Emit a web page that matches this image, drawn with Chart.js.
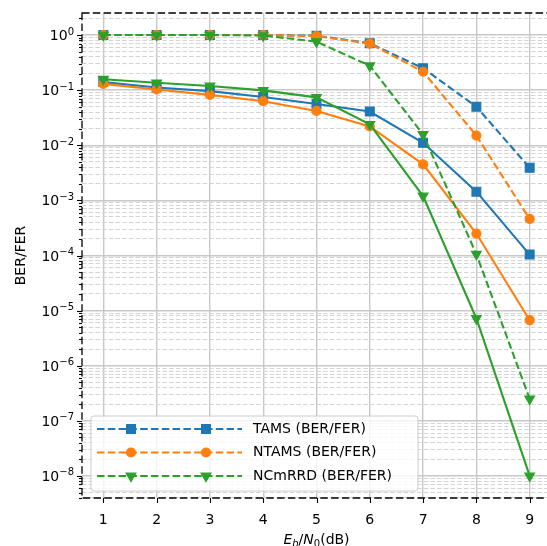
<!DOCTYPE html>
<html>
<head>
<meta charset="utf-8">
<script src="https://cdn.jsdelivr.net/npm/chart.js@4/dist/chart.umd.min.js"></script>
<style>
  html, body { margin: 0; padding: 0; overflow: hidden; background: #fff; }
  #wrap { width: 560px; height: 546px; }
</style>
</head>
<body>
<div id="wrap"><canvas id="myChart"></canvas></div>
<script>
// Eb/N0 points (dB)
var snr = [1, 2, 3, 4, 5, 6, 7, 8, 9];

var tamsBer   = [0.14, 0.112, 0.096, 0.075, 0.056, 0.041, 0.0111, 0.00144, 0.000104];
var tamsFer   = [1.0, 1.0, 1.0, 1.0, 0.97, 0.71, 0.25, 0.05, 0.0039];
var ntamsBer  = [0.13, 0.103, 0.082, 0.063, 0.042, 0.022, 0.0045, 0.00025, 0.0000067];
var ntamsFer  = [1.0, 1.0, 1.0, 1.0, 0.96, 0.70, 0.216, 0.015, 0.00046];
var ncmrrdBer = [0.158, 0.136, 0.119, 0.099, 0.074, 0.024, 0.0012, 0.0000072, 0.00000001];
var ncmrrdFer = [1.0, 1.0, 1.0, 0.98, 0.76, 0.277, 0.0157, 0.000106, 0.00000025];

var legendNames = ['TAMS (BER/FER)', 'NTAMS (BER/FER)', 'NCmRRD (BER/FER)'];
var colors = ['#1f77b4', '#ff7f0e', '#2ca02c'];
var markers = [
  {style: 'rect', radius: 6.2, rotation: 0},
  {style: 'circle', radius: 4.5, rotation: 0},
  {style: 'triangle', radius: 5.6, rotation: 180}
];

var dashLine = [7.5, 3.3];
var FONT = 'DejaVu Sans';

function toPoints(arr) {
  return arr.map(function(v, i) { return {x: snr[i], y: v}; });
}

function isDecade(v) {
  var e = Math.log10(v);
  return Math.abs(e - Math.round(e)) < 1e-6;
}

function makeSet(label, values, k, dashed, idx) {
  return {
    label: label,
    data: toPoints(values),
    borderColor: colors[k],
    backgroundColor: colors[k],
    pointBackgroundColor: colors[k],
    pointBorderColor: colors[k],
    borderWidth: 2.1,
    borderDash: dashed ? dashLine : [],
    pointStyle: markers[k].style,
    pointRadius: markers[k].radius,
    pointRotation: markers[k].rotation,
    pointBorderWidth: 1.2,
    fill: false,
    tension: 0,
    order: -idx
  };
}

var datasets = [
  makeSet('TAMS BER', tamsBer, 0, false, 0),
  makeSet('TAMS FER', tamsFer, 0, true, 1),
  makeSet('NTAMS BER', ntamsBer, 1, false, 2),
  makeSet('NTAMS FER', ntamsFer, 1, true, 3),
  makeSet('NCmRRD BER', ncmrrdBer, 2, false, 4),
  makeSet('NCmRRD FER', ncmrrdFer, 2, true, 5)
];

// frame, tick marks, power-of-ten labels, axis titles and the legend
var decor = {
  id: 'decor',
  afterDraw: function(chart) {
    var ctx = chart.ctx;
    var a = chart.chartArea;
    var xs = chart.scales.x, ys = chart.scales.y;
    ctx.save();

    // tick marks
    ctx.strokeStyle = '#000';
    ctx.lineWidth = 1.1;
    ctx.setLineDash([]);
    ys.ticks.forEach(function(t) {
      var y = Math.round(ys.getPixelForValue(t.value)) + 0.5;
      var len = isDecade(t.value) ? 5 : 3;
      ctx.beginPath();
      ctx.moveTo(a.left - len, y);
      ctx.lineTo(a.left, y);
      ctx.stroke();
    });
    xs.ticks.forEach(function(t) {
      var x = Math.round(xs.getPixelForValue(t.value)) + 0.5;
      ctx.beginPath();
      ctx.moveTo(x, a.bottom);
      ctx.lineTo(x, a.bottom + 5);
      ctx.stroke();
    });

    // y labels as 10 with a raised exponent
    ctx.fillStyle = '#000';
    ctx.textBaseline = 'alphabetic';
    ctx.textAlign = 'left';
    ys.ticks.forEach(function(t) {
      if (!isDecade(t.value)) return;
      var y = ys.getPixelForValue(t.value);
      var e = String(Math.round(Math.log10(t.value))).replace('-', '\u2212');
      ctx.font = '14px "' + FONT + '"';
      var wb = ctx.measureText('10').width;
      ctx.font = '10px "' + FONT + '"';
      var we = ctx.measureText(e).width;
      var x0 = a.left - 8 - wb - we;
      ctx.font = '14px "' + FONT + '"';
      ctx.fillText('10', x0, y + 5);
      ctx.font = '10px "' + FONT + '"';
      ctx.fillText(e, x0 + wb, y - 0.5);
    });

    // dashed frame
    ctx.lineWidth = 1.3;
    ctx.setLineDash([7.5, 3.3]);
    ctx.strokeRect(a.left, a.top, a.right - a.left, a.bottom - a.top);
    ctx.setLineDash([]);

    // y title
    ctx.fillStyle = '#000';
    ctx.font = '14px "' + FONT + '"';
    ctx.save();
    ctx.translate(21, (a.top + a.bottom) / 2);
    ctx.rotate(-Math.PI / 2);
    ctx.textAlign = 'center';
    ctx.textBaseline = 'middle';
    ctx.fillText('BER/FER', 0, 0);
    ctx.restore();

    // x title: E_b/N_0(dB)
    var parts = [
      {t: 'E', f: 'italic 14px "' + FONT + '"', dy: 0},
      {t: 'b', f: 'italic 10px "' + FONT + '"', dy: 3},
      {t: '/', f: '14px "' + FONT + '"', dy: 0},
      {t: 'N', f: 'italic 14px "' + FONT + '"', dy: 0},
      {t: '0', f: '10px "' + FONT + '"', dy: 3},
      {t: '(dB)', f: '14px "' + FONT + '"', dy: 0}
    ];
    var total = 0;
    parts.forEach(function(p) { ctx.font = p.f; p.w = ctx.measureText(p.t).width; total += p.w; });
    var cx = (a.left + a.right) / 2 - total / 2;
    var base = 543.5;
    ctx.textAlign = 'left';
    ctx.textBaseline = 'alphabetic';
    parts.forEach(function(p) {
      ctx.font = p.f;
      ctx.fillText(p.t, cx, base + p.dy);
      cx += p.w;
    });

    // legend
    var bx = 91, by = 416, bw = 327, bh = 75, r = 3;
    ctx.beginPath();
    ctx.moveTo(bx + r, by);
    ctx.arcTo(bx + bw, by, bx + bw, by + bh, r);
    ctx.arcTo(bx + bw, by + bh, bx, by + bh, r);
    ctx.arcTo(bx, by + bh, bx, by, r);
    ctx.arcTo(bx, by, bx + bw, by, r);
    ctx.closePath();
    ctx.fillStyle = 'rgba(255,255,255,0.8)';
    ctx.fill();
    ctx.strokeStyle = '#cccccc';
    ctx.lineWidth = 1;
    ctx.stroke();

    var rows = [429, 452.5, 476];
    legendNames.forEach(function(name, k) {
      var y = rows[k];
      ctx.strokeStyle = colors[k];
      ctx.lineWidth = 2.1;
      ctx.setLineDash(dashLine);
      ctx.beginPath();
      ctx.moveTo(97, y);
      ctx.lineTo(242, y);
      ctx.stroke();
      ctx.setLineDash([]);
      ctx.fillStyle = colors[k];
      ctx.lineWidth = 1.2;
      [131, 206].forEach(function(mx) {
        Chart.helpers.drawPoint(ctx, {
          pointStyle: markers[k].style,
          radius: markers[k].radius,
          rotation: markers[k].rotation,
          borderWidth: 1.2
        }, mx, y);
      });
      ctx.fillStyle = '#000';
      ctx.font = '14px "' + FONT + '"';
      ctx.textAlign = 'left';
      ctx.textBaseline = 'middle';
      ctx.fillText(name, 253, y);
    });

    ctx.restore();
  }
};

window.addEventListener('load', function() {
  Chart.defaults.font.family = FONT;
  Chart.defaults.font.size = 14;
  Chart.defaults.color = '#000';

  var ctx = document.getElementById('myChart').getContext('2d');
  var chart = new Chart(ctx, {
    type: 'line',
    data: { datasets: datasets },
    options: {
      responsive: true,
      maintainAspectRatio: false,
      animation: false,
      layout: { padding: { top: 13, right: 9, left: 0, bottom: 0 } },
      plugins: {
        legend: { display: false },
        tooltip: { enabled: false }
      },
      scales: {
        x: {
          type: 'linear',
          min: 0.6,
          max: 9.4,
          afterBuildTicks: function(s) {
            s.ticks = snr.map(function(v) { return {value: v}; });
          },
          afterFit: function(s) { s.height = 48; },
          grid: { color: '#c8c8c8', lineWidth: 1.4, drawTicks: false },
          border: { display: false },
          ticks: { padding: 14, maxRotation: 0, autoSkip: false,
                   callback: function(v) { return String(v); } }
        },
        y: {
          type: 'logarithmic',
          min: Math.pow(10, -8.4),
          max: Math.pow(10, 0.4),
          afterBuildTicks: function(s) {
            var t = [];
            for (var e = -9; e <= 0; e++) {
              for (var m = 1; m <= 9; m++) {
                var v = m * Math.pow(10, e);
                if (v >= s.min && v <= s.max) t.push({value: v});
              }
            }
            s.ticks = t;
          },
          afterFit: function(s) { s.width = 82; },
          grid: {
            drawTicks: false,
            color: function(c) { return c.tick && isDecade(c.tick.value) ? '#c8c8c8' : '#d4d4d4'; },
            lineWidth: function(c) { return c.tick && isDecade(c.tick.value) ? 1.4 : 1.1; }
          },
          border: {
            display: false,
            dash: function(c) { return c.tick && !isDecade(c.tick.value) ? [4.5, 2.2] : []; }
          },
          ticks: { display: false, autoSkip: false }
        }
      }
    },
    plugins: [decor]
  });
});
</script>
</body>
</html>
